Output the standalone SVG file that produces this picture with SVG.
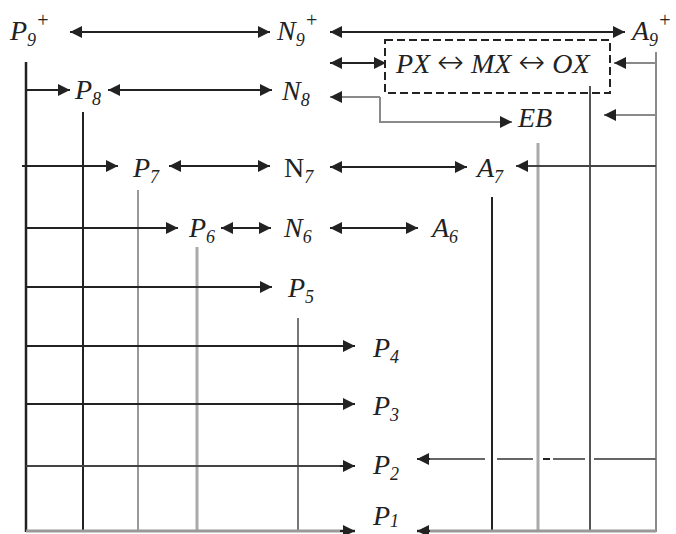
<svg xmlns="http://www.w3.org/2000/svg" width="676" height="534" viewBox="0 0 676 534">
<style>
text{font-family:"Liberation Serif","Times New Roman",serif;font-style:italic;font-size:28px;fill:#222}
.sub{font-size:18px}
.sup{font-size:20px}
.up{font-style:normal}
.arr{font-family:"DejaVu Sans",sans-serif;font-style:normal;font-size:32px;font-weight:300}
.k{stroke:#222;stroke-width:2;fill:none}
.g{stroke:#8a8a8a;stroke-width:2;fill:none}
.lg{stroke:#aaa;stroke-width:3;fill:none}
.dg{stroke:#555;stroke-width:2;fill:none}
.box{stroke:#222;stroke-width:2;fill:none;stroke-dasharray:8 4}
</style>
<defs>
<marker id="ah" viewBox="0 0 10 10" refX="10" refY="5" markerWidth="14" markerHeight="12" markerUnits="userSpaceOnUse" orient="auto-start-reverse"><path d="M0,0 L10,5 L0,10 z" fill="#222"/></marker>
</defs>
<rect width="676" height="534" fill="#fff"/>
<g id="connectors">
<line class="k" x1="26" y1="62" x2="26" y2="532" style="stroke-width:2.5"/>
<line class="k" x1="83" y1="112" x2="83" y2="532"/>
<line class="g" x1="138" y1="190" x2="138" y2="532" style="stroke:#999"/>
<line class="lg" x1="197" y1="247" x2="197" y2="532"/>
<line class="g" x1="298" y1="318" x2="298" y2="532" style="stroke:#777"/>
<line class="k" x1="492" y1="197" x2="492" y2="532"/>
<line class="lg" x1="538" y1="143" x2="538" y2="532"/>
<line class="dg" x1="590" y1="86" x2="590" y2="532"/>
<line class="g" x1="656" y1="52" x2="656" y2="532"/>
<line class="k" x1="70" y1="32" x2="270" y2="32" marker-start="url(#ah)" marker-end="url(#ah)"/>
<line class="k" x1="330" y1="32" x2="625" y2="32" marker-start="url(#ah)" marker-end="url(#ah)"/>
<line class="k" x1="330" y1="63" x2="386" y2="63" marker-start="url(#ah)" marker-end="url(#ah)"/>
<line class="g" x1="656" y1="63" x2="614" y2="63" marker-end="url(#ah)"/>
<line class="k" x1="26" y1="90" x2="70" y2="90" marker-end="url(#ah)"/>
<line class="k" x1="108" y1="90" x2="272" y2="90" marker-start="url(#ah)" marker-end="url(#ah)"/>
<line class="g" x1="380" y1="97" x2="330" y2="97" marker-end="url(#ah)"/>
<polyline class="g" points="380,97 380,122 512,122" marker-end="url(#ah)"/>
<line class="g" x1="656" y1="115" x2="604" y2="115" marker-end="url(#ah)"/>
<line class="k" x1="22" y1="166" x2="118" y2="166" marker-end="url(#ah)"/>
<line class="k" x1="169" y1="166" x2="270" y2="166" marker-start="url(#ah)" marker-end="url(#ah)"/>
<line class="k" x1="330" y1="167" x2="467" y2="167" marker-start="url(#ah)" marker-end="url(#ah)"/>
<line class="dg" x1="656" y1="166" x2="516" y2="166" style="stroke:#444" marker-end="url(#ah)"/>
<line class="k" x1="26" y1="228" x2="178" y2="228" marker-end="url(#ah)"/>
<line class="k" x1="221" y1="228" x2="271" y2="228" marker-start="url(#ah)" marker-end="url(#ah)"/>
<line class="k" x1="330" y1="228" x2="418" y2="228" marker-start="url(#ah)" marker-end="url(#ah)"/>
<line class="k" x1="26" y1="287" x2="272" y2="287" marker-end="url(#ah)"/>
<line class="k" x1="26" y1="346" x2="355" y2="346" marker-end="url(#ah)"/>
<line class="k" x1="26" y1="404" x2="355" y2="404" marker-end="url(#ah)"/>
<line class="k" x1="26" y1="466" x2="355" y2="466" style="stroke:#444"/>
<line class="k" x1="340" y1="466" x2="355" y2="466" marker-end="url(#ah)"/>
<path class="dg" d="M656,459 H594 M585,459 H553 M533,459 H497 M485,459 H430" style="stroke:#666"/>
<line class="dg" x1="550" y1="459" x2="543" y2="459" style="stroke:#222"/>
<line class="k" x1="430" y1="459" x2="417" y2="459" marker-end="url(#ah)"/>
<line class="lg" x1="26" y1="531" x2="355" y2="531" style="stroke:#999"/>
<line class="k" x1="340" y1="531" x2="355" y2="531" marker-end="url(#ah)"/>
<line class="lg" x1="656" y1="531" x2="417" y2="531" style="stroke:#999"/>
<line class="k" x1="430" y1="531" x2="417" y2="531" marker-end="url(#ah)"/>
</g>
<g id="P9"><text x="10" y="40">P<tspan class="sub" dy="6">9</tspan><tspan class="sup" dy="-19">+</tspan></text></g>
<g id="N9"><text x="277" y="40">N<tspan class="sub" dy="6">9</tspan><tspan class="sup" dy="-19">+</tspan></text></g>
<g id="A9"><text x="632" y="40">A<tspan class="sub" dy="6">9</tspan><tspan class="sup" dy="-19">+</tspan></text></g>
<g id="box"><rect class="box" x="385" y="40" width="225" height="53"/><text x="396" y="73">PX <tspan class="arr">↔</tspan> MX <tspan class="arr">↔</tspan> OX</text></g>
<g id="P8"><text x="75" y="99">P<tspan class="sub" dy="6">8</tspan></text></g>
<g id="N8"><text x="282" y="100">N<tspan class="sub" dy="6">8</tspan></text></g>
<g id="EB"><text x="518" y="127">EB</text></g>
<g id="P7"><text x="133" y="177">P<tspan class="sub" dy="6">7</tspan></text></g>
<g id="N7"><text x="284" y="177"><tspan class="up">N</tspan><tspan class="sub" dy="6">7</tspan></text></g>
<g id="A7"><text x="477" y="177">A<tspan class="sub" dy="6">7</tspan></text></g>
<g id="P6"><text x="189" y="237">P<tspan class="sub" dy="6">6</tspan></text></g>
<g id="N6"><text x="284" y="237">N<tspan class="sub" dy="6">6</tspan></text></g>
<g id="A6"><text x="432" y="237">A<tspan class="sub" dy="6">6</tspan></text></g>
<g id="P5"><text x="288" y="297">P<tspan class="sub" dy="6">5</tspan></text></g>
<g id="P4"><text x="373" y="357">P<tspan class="sub" dy="6">4</tspan></text></g>
<g id="P3"><text x="373" y="415">P<tspan class="sub" dy="6">3</tspan></text></g>
<g id="P2"><text x="373" y="474">P<tspan class="sub" dy="6">2</tspan></text></g>
<g id="P1"><text x="373" y="525">P<tspan class="sub" dy="2">1</tspan></text></g>
</svg>
